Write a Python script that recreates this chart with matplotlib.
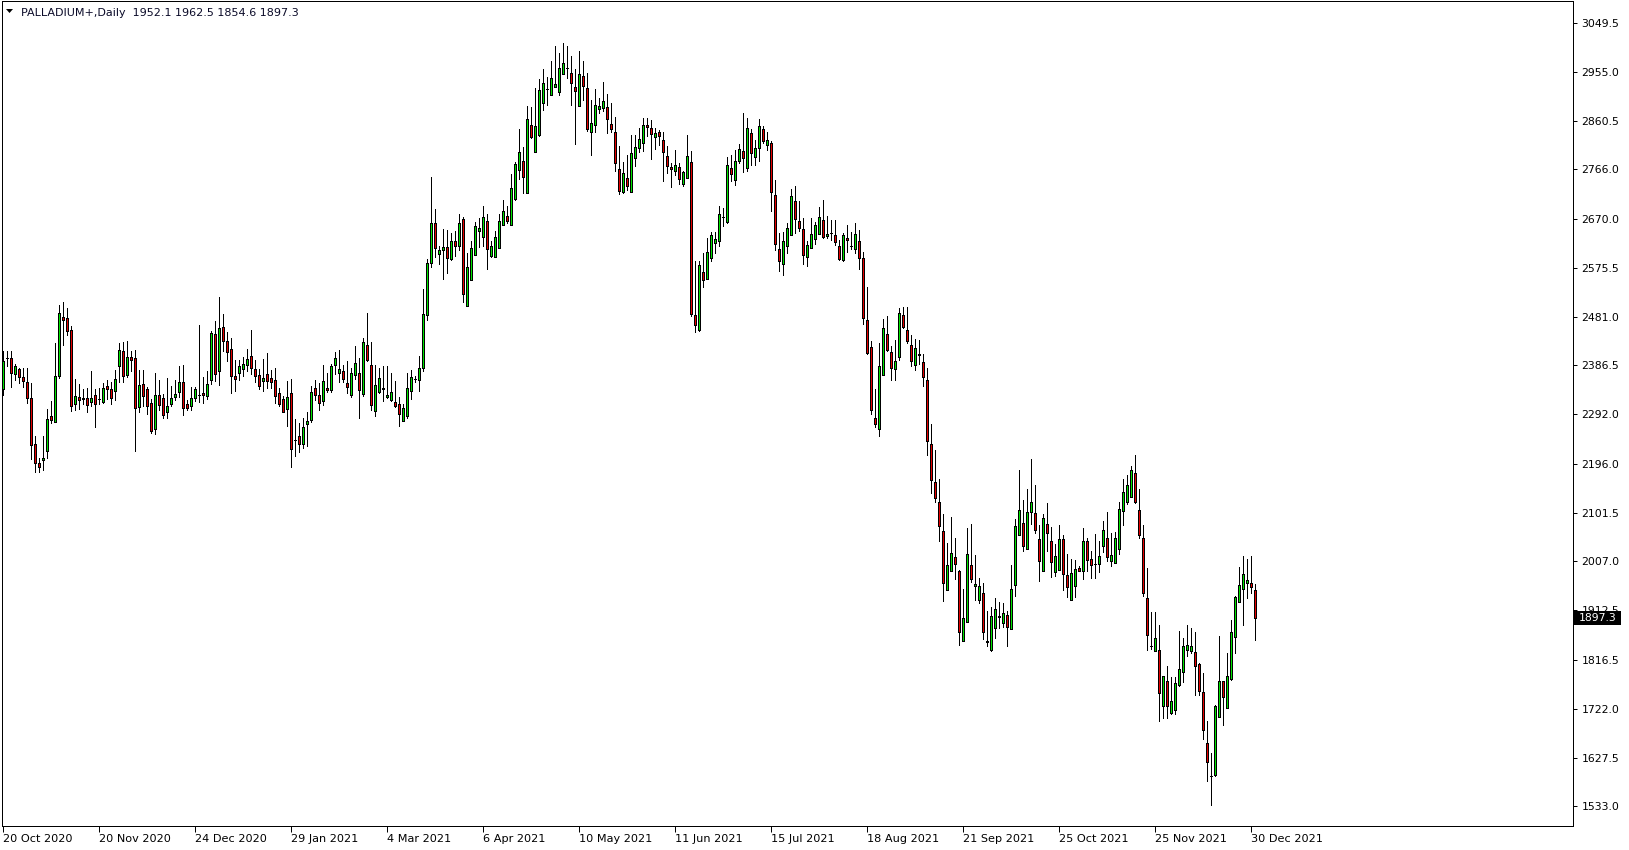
import matplotlib.pyplot as plt
from matplotlib.patches import Rectangle, Polygon
from matplotlib.transforms import blended_transform_factory

# daily OHLC, PALLADIUM+, 20 Oct 2020 .. 31 Dec 2021
opens = [2340, 2401, 2401, 2370, 2380, 2365, 2355, 2324, 2234, 2198,
         2204, 2221, 2288, 2277, 2366, 2480, 2478, 2456, 2311, 2326,
         2324, 2324, 2316, 2329, 2322, 2316, 2346, 2340, 2337, 2385,
         2415, 2368, 2403, 2401, 2306, 2350, 2340, 2313, 2263, 2330,
         2323, 2297, 2312, 2326, 2336, 2355, 2311, 2308, 2324, 2329,
         2334, 2327, 2359, 2448, 2375, 2461, 2433, 2419, 2367, 2372,
         2380, 2387, 2404, 2380, 2368, 2356, 2370, 2363, 2358, 2334,
         2321, 2303, 2334, 2243, 2249, 2235, 2274, 2281, 2343, 2330,
         2317, 2343, 2339, 2387, 2372, 2375, 2352, 2329, 2368, 2372,
         2332, 2427, 2388, 2298, 2335, 2343, 2325, 2319, 2316, 2311,
         2279, 2288, 2337, 2361, 2359, 2382, 2484, 2585, 2662, 2602,
         2609, 2615, 2593, 2628, 2617, 2670, 2501, 2551, 2600, 2647,
         2635, 2667, 2598, 2596, 2614, 2658, 2676, 2658, 2708, 2764,
         2782, 2720, 2852, 2800, 2833, 2894, 2921, 2909, 2926, 2915,
         2950, 2963, 2952, 2925, 2889, 2947, 2923, 2838, 2851, 2882,
         2885, 2886, 2853, 2838, 2766, 2722, 2750, 2722, 2788, 2808,
         2817, 2851, 2846, 2828, 2839, 2823, 2792, 2770, 2762, 2770,
         2737, 2750, 2781, 2485, 2456, 2567, 2553, 2594, 2623, 2627,
         2673, 2665, 2768, 2746, 2783, 2802, 2768, 2836, 2790, 2807,
         2844, 2813, 2817, 2717, 2612, 2583, 2617, 2639, 2705, 2666,
         2650, 2596, 2614, 2631, 2641, 2668, 2637, 2643, 2638, 2617,
         2591, 2633, 2617, 2612, 2627, 2594, 2475, 2422, 2285, 2264,
         2368, 2448, 2413, 2380, 2403, 2485, 2455, 2426, 2387, 2409,
         2394, 2359, 2235, 2160, 2123, 2066, 1952, 1988, 2015, 1988,
         1853, 1889, 2001, 1959, 1933, 1946, 1854, 1836, 1879, 1899,
         1887, 1903, 1876, 1962, 2059, 2082, 2031, 2102, 2100, 2050,
         1989, 2079, 2046, 1987, 1991, 2050, 1981, 1933, 1959, 1994,
         1989, 2046, 2012, 2002, 2003, 2037, 2053, 2008, 2005, 2031,
         2105, 2122, 2132, 2179, 2106, 2053, 1936, 1844, 1834, 1836,
         1728, 1775, 1713, 1719, 1767, 1793, 1836, 1834, 1831, 1809,
         1754, 1655, 1591, 1593, 1706, 1775, 1723, 1780, 1860, 1928,
         1954, 1966, 1966, 1952.1]
highs = [2414, 2414, 2414, 2390, 2381, 2382, 2381, 2353, 2250, 2208,
         2250, 2303, 2318, 2429, 2504, 2509, 2498, 2462, 2361, 2351,
         2340, 2343, 2376, 2340, 2342, 2353, 2358, 2354, 2377, 2430,
         2432, 2433, 2415, 2417, 2377, 2377, 2345, 2322, 2372, 2359,
         2332, 2363, 2347, 2359, 2386, 2388, 2319, 2345, 2345, 2464,
         2365, 2375, 2454, 2472, 2519, 2487, 2452, 2440, 2397, 2397,
         2403, 2419, 2456, 2397, 2379, 2398, 2410, 2377, 2381, 2343,
         2327, 2356, 2361, 2283, 2276, 2285, 2297, 2346, 2359, 2353,
         2388, 2372, 2390, 2412, 2417, 2388, 2395, 2382, 2425, 2401,
         2440, 2488, 2431, 2388, 2382, 2386, 2385, 2371, 2356, 2326,
         2311, 2372, 2377, 2366, 2404, 2535, 2592, 2751, 2690, 2617,
         2650, 2649, 2643, 2647, 2679, 2674, 2604, 2628, 2665, 2672,
         2696, 2680, 2628, 2646, 2679, 2707, 2695, 2757, 2780, 2844,
         2810, 2889, 2887, 2923, 2940, 2960, 2944, 2976, 3005, 2992,
         3011, 3005, 2985, 2960, 2995, 2976, 2953, 2900, 2921, 2905,
         2936, 2911, 2894, 2868, 2811, 2781, 2794, 2833, 2833, 2847,
         2865, 2865, 2862, 2846, 2842, 2838, 2811, 2778, 2804, 2778,
         2762, 2833, 2802, 2588, 2588, 2604, 2634, 2645, 2644, 2696,
         2691, 2789, 2794, 2804, 2815, 2876, 2866, 2844, 2823, 2863,
         2850, 2838, 2820, 2746, 2643, 2644, 2662, 2728, 2734, 2704,
         2672, 2627, 2672, 2665, 2693, 2707, 2676, 2668, 2668, 2630,
         2643, 2659, 2645, 2662, 2649, 2607, 2538, 2433, 2340, 2430,
         2477, 2483, 2425, 2435, 2497, 2500, 2500, 2445, 2438, 2435,
         2409, 2382, 2274, 2222, 2167, 2099, 2042, 2094, 2053, 1990,
         1954, 2071, 2079, 2019, 1976, 1965, 1912, 1918, 1936, 1928,
         1927, 1912, 2000, 2089, 2184, 2126, 2147, 2205, 2155, 2077,
         2098, 2121, 2073, 2041, 2077, 2058, 2021, 2012, 2010, 1999,
         2071, 2053, 2028, 2060, 2046, 2086, 2103, 2063, 2064, 2123,
         2167, 2174, 2192, 2213, 2148, 2077, 1994, 1910, 1910, 1884,
         1785, 1804, 1783, 1783, 1873, 1858, 1884, 1878, 1870, 1811,
         1791, 1699, 1637, 1730, 1862, 1776, 1830, 1894, 1941, 1997,
         2017, 2012, 2018, 1962.5]
lows = [2330, 2385, 2345, 2358, 2353, 2345, 2314, 2205, 2180, 2180,
        2185, 2208, 2276, 2277, 2363, 2427, 2446, 2298, 2300, 2303,
        2311, 2296, 2308, 2268, 2311, 2314, 2322, 2311, 2319, 2354,
        2354, 2365, 2376, 2221, 2296, 2308, 2292, 2256, 2253, 2300,
        2285, 2285, 2307, 2319, 2326, 2291, 2301, 2301, 2318, 2316,
        2314, 2321, 2350, 2356, 2348, 2414, 2396, 2334, 2337, 2359,
        2367, 2376, 2369, 2354, 2341, 2337, 2343, 2343, 2313, 2308,
        2296, 2269, 2189, 2211, 2218, 2227, 2230, 2277, 2319, 2301,
        2309, 2335, 2335, 2369, 2354, 2354, 2334, 2325, 2361, 2285,
        2328, 2395, 2301, 2288, 2334, 2317, 2324, 2317, 2306, 2269,
        2278, 2285, 2321, 2354, 2337, 2375, 2475, 2577, 2596, 2582,
        2554, 2565, 2591, 2598, 2609, 2509, 2501, 2551, 2600, 2616,
        2617, 2574, 2596, 2596, 2614, 2658, 2662, 2658, 2707, 2748,
        2720, 2720, 2826, 2800, 2831, 2881, 2891, 2909, 2926, 2910,
        2950, 2942, 2891, 2815, 2889, 2900, 2840, 2794, 2839, 2876,
        2879, 2836, 2839, 2762, 2718, 2720, 2726, 2722, 2773, 2799,
        2802, 2831, 2786, 2806, 2813, 2743, 2759, 2731, 2755, 2737,
        2733, 2749, 2482, 2451, 2454, 2538, 2553, 2588, 2604, 2617,
        2656, 2663, 2743, 2736, 2779, 2760, 2762, 2775, 2775, 2783,
        2817, 2804, 2685, 2609, 2569, 2561, 2605, 2639, 2643, 2646,
        2583, 2578, 2614, 2622, 2641, 2633, 2633, 2630, 2620, 2591,
        2589, 2606, 2612, 2605, 2574, 2466, 2409, 2292, 2267, 2250,
        2368, 2414, 2358, 2359, 2397, 2459, 2429, 2385, 2377, 2390,
        2346, 2213, 2140, 2122, 2047, 1930, 1952, 1988, 1974, 1846,
        1853, 1889, 1967, 1933, 1926, 1857, 1844, 1834, 1858, 1878,
        1881, 1844, 1876, 1941, 2059, 2028, 2031, 2079, 2062, 1970,
        1989, 2028, 1977, 1978, 1991, 1952, 1938, 1933, 1938, 1989,
        1973, 1989, 1976, 1975, 1986, 2026, 2007, 1999, 2005, 2021,
        2078, 2119, 2132, 2121, 2053, 1941, 1836, 1838, 1834, 1699,
        1704, 1704, 1712, 1712, 1766, 1773, 1825, 1830, 1749, 1748,
        1664, 1583, 1535, 1592, 1706, 1690, 1723, 1777, 1829, 1928,
        1885, 1937, 1946, 1854.6]
closes = [2396, 2401, 2372, 2386, 2365, 2356, 2324, 2233, 2198, 2189,
          2207, 2283, 2281, 2366, 2488, 2474, 2453, 2308, 2327, 2320,
          2321, 2309, 2324, 2311, 2322, 2343, 2340, 2324, 2361, 2417,
          2366, 2403, 2397, 2305, 2348, 2327, 2308, 2260, 2330, 2310,
          2291, 2307, 2324, 2332, 2355, 2305, 2305, 2324, 2340, 2329,
          2329, 2351, 2450, 2370, 2459, 2433, 2413, 2366, 2361, 2385,
          2390, 2399, 2382, 2366, 2347, 2363, 2356, 2354, 2327, 2312,
          2297, 2326, 2224, 2243, 2235, 2268, 2278, 2336, 2329, 2314,
          2357, 2339, 2386, 2401, 2379, 2361, 2344, 2372, 2392, 2339,
          2431, 2397, 2310, 2349, 2363, 2340, 2330, 2335, 2308, 2292,
          2305, 2342, 2364, 2361, 2382, 2487, 2585, 2662, 2614, 2609,
          2615, 2594, 2628, 2617, 2663, 2525, 2577, 2614, 2657, 2652,
          2674, 2612, 2618, 2635, 2666, 2686, 2667, 2730, 2776, 2799,
          2751, 2863, 2828, 2849, 2920, 2933, 2922, 2942, 2931, 2963,
          2972, 2962, 2934, 2918, 2950, 2928, 2844, 2855, 2891, 2889,
          2898, 2863, 2844, 2778, 2725, 2759, 2733, 2797, 2810, 2824,
          2852, 2848, 2834, 2836, 2831, 2799, 2772, 2766, 2775, 2747,
          2760, 2792, 2486, 2464, 2580, 2551, 2606, 2638, 2631, 2679,
          2673, 2775, 2757, 2782, 2805, 2788, 2846, 2797, 2807, 2850,
          2820, 2823, 2723, 2621, 2588, 2628, 2652, 2715, 2670, 2652,
          2601, 2619, 2640, 2659, 2673, 2636, 2640, 2643, 2625, 2593,
          2638, 2629, 2617, 2641, 2594, 2479, 2411, 2300, 2274, 2385,
          2459, 2417, 2382, 2395, 2488, 2461, 2433, 2395, 2420, 2406,
          2364, 2240, 2165, 2129, 2076, 1965, 2000, 2023, 2002, 1871,
          1897, 2021, 1974, 1963, 1959, 1870, 1851, 1902, 1915, 1902,
          1908, 1881, 1954, 2075, 2106, 2037, 2102, 2123, 2068, 2008,
          2092, 2063, 2006, 2017, 2050, 1983, 1958, 1984, 1992, 1989,
          2046, 2010, 2001, 2002, 2017, 2068, 2015, 2020, 2053, 2108,
          2142, 2155, 2184, 2123, 2059, 1946, 1865, 1844, 1858, 1752,
          1785, 1728, 1737, 1771, 1799, 1843, 1846, 1844, 1805, 1757,
          1680, 1619, 1591, 1727, 1775, 1744, 1785, 1870, 1939, 1961,
          1982, 1972, 1957, 1897.3]

date_labels = ['20 Oct 2020', '20 Nov 2020', '24 Dec 2020', '29 Jan 2021',
               '4 Mar 2021', '6 Apr 2021', '10 May 2021', '11 Jun 2021',
               '15 Jul 2021', '18 Aug 2021', '21 Sep 2021', '25 Oct 2021',
               '25 Nov 2021', '30 Dec 2021']
date_bars = [0, 24, 48, 72, 96, 120, 144, 168, 192, 216, 240, 264, 288, 312]
price_ticks = [3049.5, 2955.0, 2860.5, 2766.0, 2670.0, 2575.5, 2481.0, 2386.5,
               2292.0, 2196.0, 2101.5, 2007.0, 1912.5, 1816.5, 1722.0, 1627.5,
               1533.0]

W, H = 1629, 850
px = 0.72  # one pixel in points at dpi 100

fig = plt.figure(figsize=(W / 100, H / 100), dpi=100)
fig.patch.set_facecolor('white')
ax = fig.add_axes([2 / W, 24 / H, 1571 / W, 825 / H])
ax.set_facecolor('white')

x = list(range(len(opens)))
bull = [c >= o for o, c in zip(opens, closes)]
body_bottom = [min(o, c) for o, c in zip(opens, closes)]
body_height = [max(abs(c - o), 0.01) for o, c in zip(opens, closes)]
body_color = ['#00e400' if b else '#e40000' for b in bull]

# wicks then bodies
ax.vlines(x, lows, highs, color='black', linewidth=px, zorder=2, antialiased=False)
ax.bar(x, body_height, bottom=body_bottom, width=0.5, color=body_color,
       edgecolor='black', linewidth=px, zorder=3, antialiased=False)

ax.set_xlim(-0.35, 392.4)
ax.set_ylim(1495.0, 3091.9)

for side in ['left', 'right', 'top', 'bottom']:
    ax.spines[side].set_linewidth(px)
    ax.spines[side].set_color('black')

ax.yaxis.tick_right()
ax.set_yticks(price_ticks)
ax.set_yticklabels([f'{v:.1f}' for v in price_ticks])
ax.tick_params(axis='y', direction='out', length=3, width=px, pad=3,
               labelsize=7.8, labelcolor='black')

ax.set_xticks(date_bars)
ax.set_xticklabels(date_labels, ha='left')
ax.tick_params(axis='x', direction='out', length=4, width=px, pad=1.5,
               labelsize=8.1, labelcolor='black')

# last price marker on the price scale
tr = blended_transform_factory(ax.transAxes, ax.transData)
last = closes[-1]
ax.add_patch(Rectangle((1.0, last - 13.5), 48 / 1571, 27, transform=tr,
                       facecolor='black', edgecolor='none', clip_on=False, zorder=5))
ax.text(1.0 + 6 / 1571, last, f'{last:.1f}', transform=tr, color='white',
        fontsize=7.8, va='center', ha='left', clip_on=False, zorder=6)

# header
fig.patches.append(Polygon([[6 / W, 1 - 9 / H], [13 / W, 1 - 9 / H], [9.5 / W, 1 - 13 / H]],
                           closed=True, transform=fig.transFigure,
                           facecolor='black', edgecolor='none'))
fig.text(21 / W, 1 - 12.5 / H, 'PALLADIUM+,Daily  1952.1 1962.5 1854.6 1897.3',
         fontsize=8.0, color='#0a0a28', va='center', ha='left')

fig.savefig('out.png', dpi=100, facecolor='white')
